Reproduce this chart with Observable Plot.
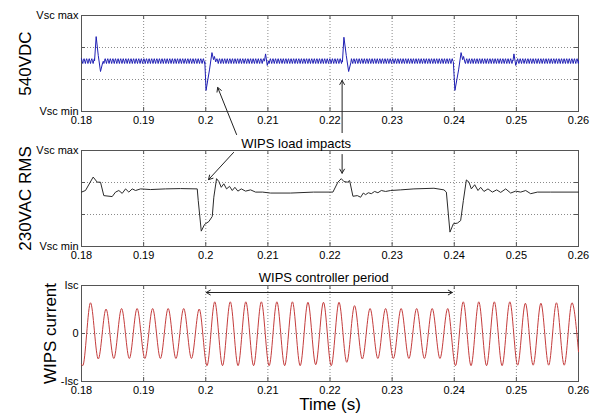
<!DOCTYPE html>
<html><head><meta charset="utf-8">
<script src="https://cdn.jsdelivr.net/npm/d3@7"></script>
<script src="https://cdn.jsdelivr.net/npm/@observablehq/plot@0.6"></script>
<style>
body{margin:0;background:#fff;}
#chart{position:relative;width:601px;height:415px;overflow:hidden;background:#fff;}
#chart svg{position:absolute;left:0;top:0;}
</style></head><body><div id="chart"></div>
<script>
// ---------- axes / labels ----------
const xTicks = [0.18, 0.19, 0.20, 0.21, 0.22, 0.23, 0.24, 0.25, 0.26];
const xTickLabels = ["0.18", "0.19", "0.2", "0.21", "0.22", "0.23", "0.24", "0.25", "0.26"];
const vTicks = [0, 3];
const vTickLabels = ["Vsc min", "Vsc max"];
const vGrid = [1, 2];
const iTicks = [-1, 0, 1];
const iTickLabels = ["-Isc", "0", "Isc"];
const panelTitles = ["540VDC", "230VAC RMS", "WIPS current"];
const xTitle = "Time (s)";

// ---------- 540VDC (normalized 0 = Vsc min .. 3 = Vsc max) ----------
const dcBase = 1.58;
const rippleStep = 0.000104;              // quarter of the ~2.4 kHz ripple period
const rippleShape = [0.07, -0.01, -0.08, 0.02];
const dcEvents = [
  [[0.18210, 1.58], [0.18236, 2.34], [0.18270, 1.75], [0.18306, 1.25], [0.18340, 1.52]],
  [[0.19985, 1.56], [0.20005, 0.66], [0.20060, 1.30], [0.20100, 1.84], [0.20125, 1.62], [0.20140, 1.72], [0.20160, 1.55]],
  [[0.20945, 1.58], [0.20963, 1.80], [0.20990, 1.44], [0.21010, 1.58]],
  [[0.22200, 1.55], [0.22224, 2.32], [0.22262, 1.75], [0.22300, 1.25], [0.22335, 1.52]],
  [[0.23985, 1.56], [0.24011, 0.66], [0.24070, 1.30], [0.24110, 1.84], [0.24135, 1.62], [0.24150, 1.72], [0.24170, 1.55]],
  [[0.24945, 1.58], [0.24961, 1.80], [0.24990, 1.44], [0.25010, 1.58]]
];

// ---------- 230VAC RMS (normalized 0..3) ----------
const rmsPoints = [
  [0.18000, 1.70], [0.18064, 1.75], [0.18188, 2.17], [0.18253, 2.01], [0.18306, 2.01], [0.18359, 1.59],
  [0.18494, 1.56], [0.18548, 1.70], [0.18601, 1.75], [0.18655, 1.66], [0.18709, 1.80], [0.18762, 1.70],
  [0.18816, 1.80], [0.18870, 1.75], [0.18950, 1.80], [0.19111, 1.78], [0.19353, 1.80], [0.19594, 1.81],
  [0.19863, 1.80], [0.19879, 1.44], [0.19928, 0.48], [0.19981, 0.69], [0.20050, 0.78], [0.20105, 0.94],
  [0.20130, 1.54], [0.20174, 2.12], [0.20211, 2.03], [0.20250, 1.85], [0.20291, 1.96], [0.20335, 1.80],
  [0.20383, 1.88], [0.20427, 1.75], [0.20469, 1.85], [0.20517, 1.73], [0.20572, 1.80], [0.20641, 1.73],
  [0.20721, 1.77], [0.20802, 1.70], [0.20915, 1.70], [0.21043, 1.67], [0.21366, 1.67], [0.21736, 1.70],
  [0.22047, 1.70], [0.22127, 2.01], [0.22182, 2.12], [0.22224, 2.03], [0.22279, 2.01], [0.22316, 2.06],
  [0.22369, 1.57], [0.22440, 1.59], [0.22493, 1.54], [0.22536, 1.67], [0.22573, 1.62], [0.22617, 1.68],
  [0.22665, 1.65], [0.22718, 1.72], [0.22771, 1.68], [0.22826, 1.75], [0.22895, 1.72], [0.22976, 1.75],
  [0.23137, 1.77], [0.23351, 1.80], [0.23673, 1.82], [0.23834, 1.77], [0.23873, 1.70], [0.23931, 0.45],
  [0.23986, 0.71], [0.24050, 0.73], [0.24103, 0.81], [0.24147, 1.44], [0.24195, 2.08], [0.24237, 2.01],
  [0.24275, 1.80], [0.24329, 1.93], [0.24382, 1.75], [0.24425, 1.85], [0.24478, 1.72], [0.24543, 1.80],
  [0.24614, 1.70], [0.24683, 1.77], [0.24747, 1.69], [0.24828, 1.80], [0.24908, 1.67], [0.24989, 1.73],
  [0.25069, 1.70], [0.25150, 1.75], [0.25230, 1.65], [0.25338, 1.70], [0.25552, 1.70], [0.26000, 1.70]
];

// ---------- WIPS current: extrema of the 400 Hz current (normalized -1 = -Isc .. 1 = Isc) ----------
const currentPoints = [
  [0.18000, -0.64],
  [0.18020, -0.67], [0.18145, 0.64], [0.18270, -0.53], [0.18395, 0.51],
  [0.18520, -0.52], [0.18645, 0.52], [0.18770, -0.52], [0.18895, 0.52],
  [0.19020, -0.52], [0.19145, 0.52], [0.19270, -0.52], [0.19395, 0.52],
  [0.19520, -0.52], [0.19645, 0.52], [0.19770, -0.52], [0.19895, 0.51],
  [0.20020, -0.67], [0.20145, 0.66], [0.20270, -0.67], [0.20395, 0.66],
  [0.20520, -0.67], [0.20645, 0.66], [0.20770, -0.67], [0.20895, 0.66],
  [0.21020, -0.67], [0.21145, 0.66], [0.21270, -0.67], [0.21395, 0.66],
  [0.21520, -0.67], [0.21645, 0.65], [0.21770, -0.65], [0.21895, 0.65],
  [0.22020, -0.67], [0.22145, 0.65], [0.22270, -0.60], [0.22395, 0.58],
  [0.22520, -0.53], [0.22645, 0.52], [0.22770, -0.52], [0.22895, 0.52],
  [0.23020, -0.52], [0.23145, 0.52], [0.23270, -0.52], [0.23395, 0.52],
  [0.23520, -0.52], [0.23645, 0.52], [0.23770, -0.52], [0.23895, 0.52],
  [0.24020, -0.67], [0.24145, 0.66], [0.24270, -0.67], [0.24395, 0.66],
  [0.24520, -0.67], [0.24645, 0.66], [0.24770, -0.67], [0.24895, 0.66],
  [0.25020, -0.66], [0.25145, 0.63], [0.25270, -0.66], [0.25395, 0.63],
  [0.25520, -0.66], [0.25645, 0.64], [0.25770, -0.66], [0.25895, 0.64],
  [0.26000, -0.38]
];

// ---------- annotations ----------
const loadImpactText = [{t: 0.21455, v: 3.20, text: "WIPS load impacts"}];           // middle-panel units
const loadArrowsTop = [{t1: 0.20496, v1: -0.72, t2: 0.20192, v2: 0.75},
                       {t1: 0.22195, v1: -0.66, t2: 0.22195, v2: 0.97}];             // top-panel units
const loadArrowsMid = [{t1: 0.20448, v1: 2.94, t2: 0.20045, v2: 2.09},
                       {t1: 0.22195, v1: 2.875, t2: 0.22195, v2: 2.29}];             // middle-panel units
const periodText = [{t: 0.2190, v: 1.17, text: "WIPS controller period"}];          // bottom-panel units
const periodArrows = [{t1: 0.2200, v1: 0.854, t2: 0.20008, v2: 0.854},
                      {t1: 0.2200, v1: 0.854, t2: 0.23969, v2: 0.854}];

// ---------- build DC series (ripple between the transients) ----------
const dcSeries = [];
{
  let t = 0.18, i = 0;
  for (const ev of dcEvents.concat([[[0.26, dcBase]]])) {
    const tEnd = ev[0][0];
    for (; t < tEnd - 1e-9; t += rippleStep, i++) dcSeries.push({t, v: dcBase + rippleShape[i % rippleShape.length]});
    for (const [tt, vv] of ev) dcSeries.push({t: tt, v: vv});
    t = ev[ev.length - 1][0] + rippleStep;
  }
}

const fontFamily = "'Liberation Sans', Arial, Helvetica, sans-serif";
const W = 601, H = 415;
const frameColor = "#555";
const gridStyle = {stroke: "#8a8a8a", strokeDasharray: "1,2", strokeWidth: 1};
const inner = xTicks.slice(1, -1);
const fmtX = d => xTickLabels[xTicks.findIndex(v => Math.abs(v - d) < 1e-9)];

function panel({top, bottom, yDomain, yTicks, yLabels, yGrid, title, titleDx, marks}) {
  const span = yDomain[1] - yDomain[0];
  const px = bottom - top;
  const tl = span * 4 / px;                 // 4px inner tick length in data units
  const xl = 0.08 * 4 / 497;
  return Plot.plot({
    width: W, height: H,
    marginLeft: 81, marginRight: 23, marginTop: top, marginBottom: H - bottom,
    style: {background: "transparent", overflow: "visible", fontFamily, fontSize: "11px", color: "#000"},
    x: {domain: [0.18, 0.26], ticks: xTicks, tickFormat: fmtX, tickSize: 0, tickPadding: 5, label: null},
    y: {domain: yDomain, ticks: yTicks, tickFormat: d => yLabels[yTicks.indexOf(d)], tickSize: 0, tickPadding: 3, label: null},
    marks: [
      Plot.ruleX(inner, gridStyle),
      Plot.ruleY(yGrid, gridStyle),
      Plot.ruleX(inner, {x: d => d, y1: yDomain[0], y2: yDomain[0] + tl, stroke: frameColor}),
      Plot.ruleX(inner, {x: d => d, y1: yDomain[1] - tl, y2: yDomain[1], stroke: frameColor}),
      Plot.ruleY(yGrid, {y: d => d, x1: 0.18, x2: 0.18 + xl, stroke: frameColor}),
      Plot.ruleY(yGrid, {y: d => d, x1: 0.26 - xl, x2: 0.26, stroke: frameColor}),
      Plot.frame({stroke: frameColor}),
      Plot.text([title], {text: d => d, frameAnchor: "left", dx: titleDx, rotate: -90,
        textAnchor: "middle", lineAnchor: "middle", fontSize: 17, fill: "#000"}),
      ...marks
    ]
  });
}

const chart = document.getElementById("chart");

chart.append(panel({
  top: 15, bottom: 111, yDomain: [0, 3], yTicks: vTicks, yLabels: vTickLabels, yGrid: vGrid,
  title: panelTitles[0], titleDx: -56,
  marks: [
    Plot.line(dcSeries, {x: "t", y: "v", stroke: "#1f1fb4", strokeWidth: 1}),
    Plot.arrow(loadArrowsTop, {x1: "t1", y1: "v1", x2: "t2", y2: "v2", stroke: "#222", strokeWidth: 1, headLength: 7})
  ]
}));

chart.append(panel({
  top: 150, bottom: 246, yDomain: [0, 3], yTicks: vTicks, yLabels: vTickLabels, yGrid: vGrid,
  title: panelTitles[1], titleDx: -56,
  marks: [
    Plot.line(rmsPoints, {x: d => d[0], y: d => d[1], stroke: "#2a2a2a", strokeWidth: 1}),
    Plot.text(loadImpactText, {x: "t", y: "v", text: "text", fontSize: 13, fill: "#000"}),
    Plot.arrow(loadArrowsMid, {x1: "t1", y1: "v1", x2: "t2", y2: "v2", stroke: "#222", strokeWidth: 1, headLength: 7})
  ]
}));

chart.append(panel({
  top: 285, bottom: 381, yDomain: [-1, 1], yTicks: iTicks, yLabels: iTickLabels, yGrid: [0],
  title: panelTitles[2], titleDx: -31,
  marks: [
    Plot.line(currentPoints, {x: d => d[0], y: d => d[1], curve: "monotone-x", stroke: "#c43c3c", strokeWidth: 1}),
    Plot.text(periodText, {x: "t", y: "v", text: "text", fontSize: 13, fill: "#000"}),
    Plot.arrow(periodArrows, {x1: "t1", y1: "v1", x2: "t2", y2: "v2", stroke: "#222", strokeWidth: 1, headLength: 7}),
    Plot.text([xTitle], {text: d => d, frameAnchor: "bottom", dy: 23, lineAnchor: "middle", textAnchor: "middle", fontSize: 17, fill: "#000"})
  ]
}));
</script></body></html>
